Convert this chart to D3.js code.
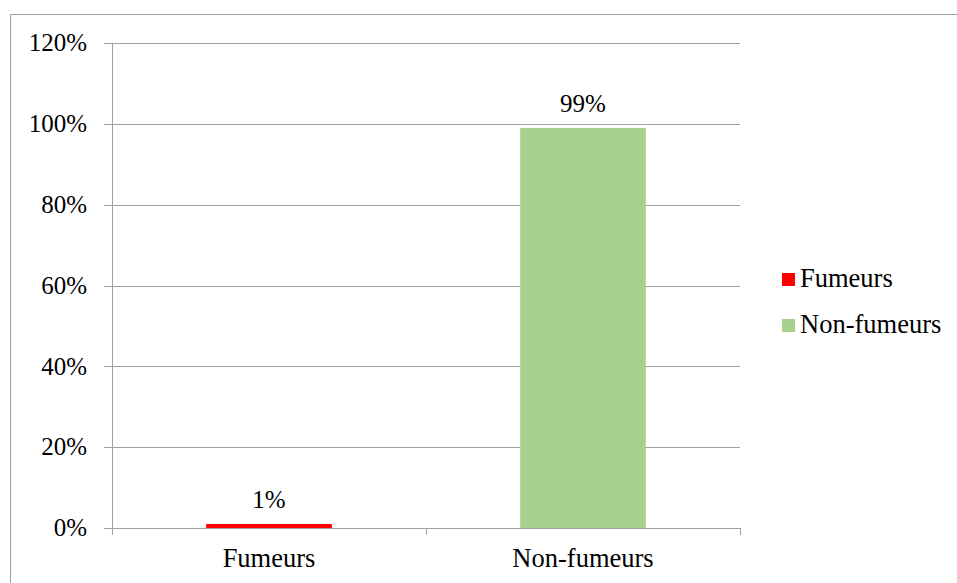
<!DOCTYPE html>
<html>
<head>
<meta charset="utf-8">
<script src="https://cdn.jsdelivr.net/npm/d3@7"></script>
<style>
  body { margin: 0; background: #fff; }
  svg text { font-family: "Liberation Serif", "Times New Roman", Times, Tinos, "Nimbus Roman", "DejaVu Serif", serif; fill: #000; }
</style>
</head>
<body>
<div id="chart"></div>
<script>
var categories = ["Fumeurs", "Non-fumeurs"];
var values = [0.01, 0.99];
var colors = ["#ff0000", "#a9d18e"];
var yTicks = [0, 0.2, 0.4, 0.6, 0.8, 1.0, 1.2];

var svgWidth = 957;
var svgHeight = 583;

var margin = { top: 43, left: 112 };
var width = 628;
var height = 485;

var fontFamily = '"Liberation Serif", "Times New Roman", Times, Tinos, "Nimbus Roman", "DejaVu Serif", serif';

var svg = d3.select("#chart")
  .append("svg")
  .attr("width", svgWidth)
  .attr("height", svgHeight)
  .attr("font-family", fontFamily);

// outer chart border
svg.append("rect")
  .attr("x", 10.5)
  .attr("y", 14.5)
  .attr("width", 980)
  .attr("height", 600)
  .attr("fill", "none")
  .attr("stroke", "#a0a0a0")
  .attr("stroke-width", 1);

var g = svg.append("g")
  .attr("transform", `translate(${margin.left}, ${margin.top})`);

var xScale = d3.scaleBand()
  .domain(categories)
  .range([0, width])
  .paddingInner(0.6)
  .paddingOuter(0.3);

var yScale = d3.scaleLinear()
  .domain([0, 1.2])
  .range([height, 0]);

// gridlines
g.selectAll(".grid")
  .data(yTicks)
  .enter()
  .append("line")
  .attr("x1", -8)
  .attr("x2", width)
  .attr("y1", d => Math.round(yScale(d)) + 0.5)
  .attr("y2", d => Math.round(yScale(d)) + 0.5)
  .attr("stroke", "#a0a0a0");

// y axis line
g.append("line")
  .attr("x1", 0.5).attr("x2", 0.5)
  .attr("y1", 0).attr("y2", height)
  .attr("stroke", "#a0a0a0");

// y labels
g.selectAll(".ylab")
  .data(yTicks)
  .enter()
  .append("text")
  .attr("x", -25)
  .attr("y", d => yScale(d))
  .attr("dy", "0.33em")
  .attr("text-anchor", "end")
  .style("font-size", "25px")
  .style("font-family", fontFamily)
  .text(d => d3.format(".0%")(d));

// x category tick marks
var xTicks = [0, width / 2, width];
g.selectAll(".xtick")
  .data(xTicks)
  .enter()
  .append("line")
  .attr("x1", d => Math.round(d) + 0.5)
  .attr("x2", d => Math.round(d) + 0.5)
  .attr("y1", height)
  .attr("y2", height + 7)
  .attr("stroke", "#a0a0a0");

// bars
g.selectAll(".bar")
  .data(values)
  .enter()
  .append("rect")
  .attr("x", (d, i) => xScale(categories[i]))
  .attr("y", d => yScale(d))
  .attr("width", xScale.bandwidth())
  .attr("height", d => height - yScale(d))
  .attr("fill", (d, i) => colors[i]);

// value labels
g.selectAll(".val")
  .data(values)
  .enter()
  .append("text")
  .attr("x", (d, i) => xScale(categories[i]) + xScale.bandwidth() / 2)
  .attr("y", d => yScale(d) - 16)
  .attr("text-anchor", "middle")
  .style("font-size", "25px")
  .style("font-family", fontFamily)
  .text(d => d3.format(".0%")(d));

// category labels
g.selectAll(".cat")
  .data(categories)
  .enter()
  .append("text")
  .attr("x", d => xScale(d) + xScale.bandwidth() / 2)
  .attr("y", height + 39)
  .attr("text-anchor", "middle")
  .style("font-size", "26.5px")
  .style("font-family", fontFamily)
  .text(d => d);

// legend
var legend = svg.append("g")
  .attr("transform", "translate(782, 273)");

var items = legend.selectAll(".item")
  .data(categories)
  .enter()
  .append("g")
  .attr("transform", (d, i) => `translate(0, ${i * 46})`);

items.append("rect")
  .attr("width", 13)
  .attr("height", 13)
  .attr("fill", (d, i) => colors[i]);

items.append("text")
  .attr("x", 18)
  .attr("y", 14)
  .style("font-size", "26.5px")
  .style("font-family", fontFamily)
  .text(d => d);
</script>
</body>
</html>
